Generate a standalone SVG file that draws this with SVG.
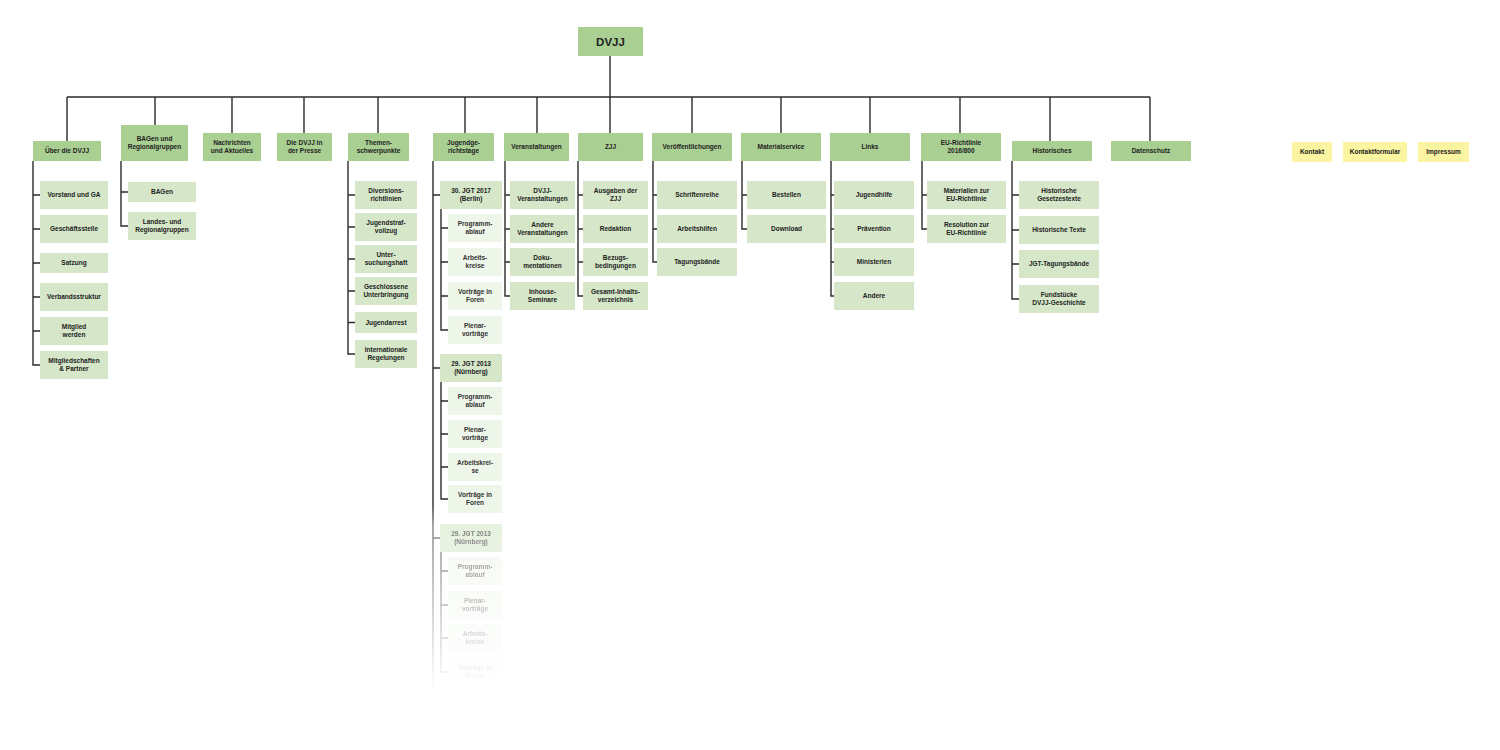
<svg xmlns="http://www.w3.org/2000/svg" width="1500" height="750" viewBox="0 0 1500 750">
<style>
text{font-family:"Liberation Sans",Arial,sans-serif;font-weight:bold;font-size:6.5px;fill:#222;text-anchor:middle}
.root text{font-size:11.5px}
.t{fill:#a9cf92}
.c{fill:#d5e7c8}
.g{fill:#eef5e9}
.y{fill:#fbf4a0}
.g + text,.gt{fill:#333}
#connectors path{stroke:#2b2b2b;stroke-width:1.4;fill:none}
</style>
<defs>
<linearGradient id="fadeGrad" gradientUnits="userSpaceOnUse" x1="0" y1="0" x2="0" y2="750">
<stop offset="0" stop-color="#fff"/>
<stop offset="0.673" stop-color="#fff"/>
<stop offset="0.70" stop-color="#999"/>
<stop offset="0.92" stop-color="#000"/>
</linearGradient>
<mask id="fade" maskUnits="userSpaceOnUse" x="0" y="0" width="1500" height="750">
<rect x="0" y="0" width="1500" height="750" fill="url(#fadeGrad)"/>
</mask>
</defs>
<rect width="1500" height="750" fill="#fff"/>

<g id="connectors" mask="url(#fade)">
<path d="M610 56V97M67 97H1150"/>
<path d="M67 97V141M155 97V125M232 97V133M304 97V133M378 97V133M465 97V133M537 97V133M610 97V133M692 97V133M781 97V133M870 97V133M960 97V133M1050 97V141M1150 97V141"/>
<!-- Über -->
<path d="M33 161V365H40M33 195H40M33 229H40M33 263H40M33 297H40M33 331H40"/>
<!-- BAGen -->
<path d="M121 161V226H128M121 192H128"/>
<!-- Themen -->
<path d="M348 161V354H355M348 195H355M348 227H355M348 259H355M348 291H355M348 322.5H355"/>
<!-- JGT -->
<path d="M433 161V695M433 195H440M433 368H440M433 538H440"/>
<path d="M441 209V330H448M441 228H448M441 262H448M441 296H448"/>
<path d="M441 382V499H448M441 401H448M441 434H448M441 467H448"/>
<path d="M441 552V672H448M441 571H448M441 605H448M441 638H448"/>
<!-- Veranstaltungen -->
<path d="M505 161V296H510M505 195H510M505 229H510M505 262H510"/>
<!-- ZJJ -->
<path d="M578 161V296H583M578 195H583M578 229H583M578 262H583"/>
<!-- Veröffentlichungen -->
<path d="M653 161V262H657M653 195H657M653 229H657"/>
<!-- Materialservice -->
<path d="M742 161V229H747M742 195H747"/>
<!-- Links -->
<path d="M831 161V296H834M831 195H834M831 229H834M831 262H834"/>
<!-- EU -->
<path d="M922 161V229H927M922 195H927"/>
<!-- Historisches -->
<path d="M1012 161V299H1019M1012 195H1019M1012 230H1019M1012 264H1019"/>
</g>

<g id="n-dvjj" class="root"><rect class="t" x="578" y="27" width="65" height="29"/><text x="610.5" y="45.5">DVJJ</text></g>

<!-- Top level -->
<g id="n-ueber"><rect class="t" x="33" y="141" width="68" height="20"/><text x="67" y="153.3">Über die DVJJ</text></g>
<g id="n-bagen-top"><rect class="t" x="121" y="125" width="67" height="36"/><text x="154.5" y="141.3">BAGen und</text><text x="154.5" y="149.3">Regionalgruppen</text></g>
<g id="n-nachrichten"><rect class="t" x="203" y="133" width="58" height="28"/><text x="232" y="145.3">Nachrichten</text><text x="232" y="153.3">und Aktuelles</text></g>
<g id="n-presse"><rect class="t" x="277" y="133" width="55" height="28"/><text x="304.5" y="145.3">Die DVJJ in</text><text x="304.5" y="153.3">der Presse</text></g>
<g id="n-themen"><rect class="t" x="348" y="133" width="61" height="28"/><text x="378.5" y="145.3">Themen-</text><text x="378.5" y="153.3">schwerpunkte</text></g>
<g id="n-jgt"><rect class="t" x="433" y="133" width="61" height="28"/><text x="463.5" y="145.3">Jugendge-</text><text x="463.5" y="153.3">richtstage</text></g>
<g id="n-veranst"><rect class="t" x="504" y="133" width="65" height="28"/><text x="536.5" y="149.3">Veranstaltungen</text></g>
<g id="n-zjj"><rect class="t" x="578" y="133" width="65" height="28"/><text x="610.5" y="149.3">ZJJ</text></g>
<g id="n-veroeff"><rect class="t" x="652" y="133" width="80" height="28"/><text x="692" y="149.3">Veröffentlichungen</text></g>
<g id="n-material"><rect class="t" x="741" y="133" width="80" height="28"/><text x="781" y="149.3">Materialservice</text></g>
<g id="n-links"><rect class="t" x="830" y="133" width="80" height="28"/><text x="870" y="149.3">Links</text></g>
<g id="n-eu"><rect class="t" x="921" y="133" width="80" height="28"/><text x="961" y="145.3">EU-Richtlinie</text><text x="961" y="153.3">2016/800</text></g>
<g id="n-hist"><rect class="t" x="1012" y="141" width="80" height="20"/><text x="1052" y="153.3">Historisches</text></g>
<g id="n-daten"><rect class="t" x="1111" y="141" width="80" height="20"/><text x="1151" y="153.3">Datenschutz</text></g>

<g id="n-kontakt"><rect class="y" x="1292" y="142" width="40" height="20"/><text x="1312" y="154.3">Kontakt</text></g>
<g id="n-kontaktformular"><rect class="y" x="1343" y="142" width="64" height="20"/><text x="1375" y="154.3">Kontaktformular</text></g>
<g id="n-impressum"><rect class="y" x="1418" y="142" width="51" height="20"/><text x="1443.5" y="154.3">Impressum</text></g>

<!-- Über children -->
<g id="n-vorstand"><rect class="c" x="40" y="181" width="68" height="28"/><text x="74" y="197.3">Vorstand und GA</text></g>
<g id="n-geschaeft"><rect class="c" x="40" y="215" width="68" height="28"/><text x="74" y="231.3">Geschäftsstelle</text></g>
<g id="n-satzung"><rect class="c" x="40" y="253" width="68" height="20"/><text x="74" y="265.3">Satzung</text></g>
<g id="n-verband"><rect class="c" x="40" y="283" width="68" height="28"/><text x="74" y="299.3">Verbandsstruktur</text></g>
<g id="n-mitglied"><rect class="c" x="40" y="317" width="68" height="28"/><text x="74" y="329.3">Mitglied</text><text x="74" y="337.3">werden</text></g>
<g id="n-mitgliedschaften"><rect class="c" x="40" y="351" width="68" height="28"/><text x="74" y="363.3">Mitgliedschaften</text><text x="74" y="371.3">&amp; Partner</text></g>

<!-- BAGen children -->
<g id="n-bagen"><rect class="c" x="128" y="182" width="68" height="20"/><text x="162" y="194.3">BAGen</text></g>
<g id="n-landes"><rect class="c" x="128" y="212" width="68" height="28"/><text x="162" y="224.3">Landes- und</text><text x="162" y="232.3">Regionalgruppen</text></g>

<!-- Themen children -->
<g id="n-diversion"><rect class="c" x="355" y="181" width="62" height="28"/><text x="386" y="193.3">Diversions-</text><text x="386" y="201.3">richtlinien</text></g>
<g id="n-jugendstraf"><rect class="c" x="355" y="213" width="62" height="28"/><text x="386" y="225.3">Jugendstraf-</text><text x="386" y="233.3">vollzug</text></g>
<g id="n-unter"><rect class="c" x="355" y="245" width="62" height="28"/><text x="386" y="257.3">Unter-</text><text x="386" y="265.3">suchungshaft</text></g>
<g id="n-geschlossen"><rect class="c" x="355" y="277" width="62" height="28"/><text x="386" y="289.3">Geschlossene</text><text x="386" y="297.3">Unterbringung</text></g>
<g id="n-arrest"><rect class="c" x="355" y="312" width="62" height="21"/><text x="386" y="324.8">Jugendarrest</text></g>
<g id="n-intern"><rect class="c" x="355" y="340" width="62" height="28"/><text x="386" y="352.3">Internationale</text><text x="386" y="360.3">Regelungen</text></g>

<!-- JGT children -->
<g id="n-jgt2017"><rect class="c" x="440" y="181" width="62" height="28"/><text x="471" y="193.3">30. JGT 2017</text><text x="471" y="201.3">(Berlin)</text></g>
<g id="n-jgt2017-prog"><rect class="g" x="448" y="214" width="54" height="28"/><text class="gt" x="475" y="226.3">Programm-</text><text class="gt" x="475" y="234.3">ablauf</text></g>
<g id="n-jgt2017-ak"><rect class="g" x="448" y="248" width="54" height="28"/><text class="gt" x="475" y="260.3">Arbeits-</text><text class="gt" x="475" y="268.3">kreise</text></g>
<g id="n-jgt2017-vf"><rect class="g" x="448" y="282" width="54" height="28"/><text class="gt" x="475" y="294.3">Vorträge in</text><text class="gt" x="475" y="302.3">Foren</text></g>
<g id="n-jgt2017-pv"><rect class="g" x="448" y="316" width="54" height="28"/><text class="gt" x="475" y="328.3">Plenar-</text><text class="gt" x="475" y="336.3">vorträge</text></g>

<g id="n-jgt2013"><rect class="c" x="440" y="354" width="62" height="28"/><text x="471" y="366.3">29. JGT 2013</text><text x="471" y="374.3">(Nürnberg)</text></g>
<g id="n-jgt2013-prog"><rect class="g" x="448" y="387" width="54" height="28"/><text class="gt" x="475" y="399.3">Programm-</text><text class="gt" x="475" y="407.3">ablauf</text></g>
<g id="n-jgt2013-pv"><rect class="g" x="448" y="420" width="54" height="28"/><text class="gt" x="475" y="432.3">Plenar-</text><text class="gt" x="475" y="440.3">vorträge</text></g>
<g id="n-jgt2013-ak"><rect class="g" x="448" y="453" width="54" height="28"/><text class="gt" x="475" y="465.3">Arbeitskrei-</text><text class="gt" x="475" y="473.3">se</text></g>
<g id="n-jgt2013-vf"><rect class="g" x="448" y="485" width="54" height="28"/><text class="gt" x="475" y="497.3">Vorträge in</text><text class="gt" x="475" y="505.3">Foren</text></g>

<g id="jgt-faded" mask="url(#fade)">
<g id="n-jgt2013b"><rect class="c" x="440" y="524" width="62" height="28"/><text x="471" y="536.3">29. JGT 2013</text><text x="471" y="544.3">(Nürnberg)</text></g>
<g id="n-jgt2013b-prog"><rect class="g" x="448" y="557" width="54" height="28"/><text class="gt" x="475" y="569.3">Programm-</text><text class="gt" x="475" y="577.3">ablauf</text></g>
<g id="n-jgt2013b-pv"><rect class="g" x="448" y="591" width="54" height="28"/><text class="gt" x="475" y="603.3">Plenar-</text><text class="gt" x="475" y="611.3">vorträge</text></g>
<g id="n-jgt2013b-ak"><rect class="g" x="448" y="624" width="54" height="28"/><text class="gt" x="475" y="636.3">Arbeits-</text><text class="gt" x="475" y="644.3">kreise</text></g>
<g id="n-jgt2013b-vf"><rect class="g" x="448" y="658" width="54" height="28"/><text class="gt" x="475" y="670.3">Vorträge in</text><text class="gt" x="475" y="678.3">Foren</text></g>
</g>

<!-- Veranstaltungen children -->
<g id="n-dvjjver"><rect class="c" x="510" y="181" width="65" height="28"/><text x="542.5" y="193.3">DVJJ-</text><text x="542.5" y="201.3">Veranstaltungen</text></g>
<g id="n-andere-ver"><rect class="c" x="510" y="215" width="65" height="28"/><text x="542.5" y="227.3">Andere</text><text x="542.5" y="235.3">Veranstaltungen</text></g>
<g id="n-doku"><rect class="c" x="510" y="248" width="65" height="28"/><text x="542.5" y="260.3">Doku-</text><text x="542.5" y="268.3">mentationen</text></g>
<g id="n-inhouse"><rect class="c" x="510" y="282" width="65" height="28"/><text x="542.5" y="294.3">Inhouse-</text><text x="542.5" y="302.3">Seminare</text></g>

<!-- ZJJ children -->
<g id="n-ausgaben"><rect class="c" x="583" y="181" width="65" height="28"/><text x="615.5" y="193.3">Ausgaben der</text><text x="615.5" y="201.3">ZJJ</text></g>
<g id="n-redaktion"><rect class="c" x="583" y="215" width="65" height="28"/><text x="615.5" y="231.3">Redaktion</text></g>
<g id="n-bezug"><rect class="c" x="583" y="248" width="65" height="28"/><text x="615.5" y="260.3">Bezugs-</text><text x="615.5" y="268.3">bedingungen</text></g>
<g id="n-gesamt"><rect class="c" x="583" y="282" width="65" height="28"/><text x="615.5" y="294.3">Gesamt-Inhalts-</text><text x="615.5" y="302.3">verzeichnis</text></g>

<!-- Veröffentlichungen children -->
<g id="n-schriften"><rect class="c" x="657" y="181" width="80" height="28"/><text x="697" y="197.3">Schriftenreihe</text></g>
<g id="n-arbeitshilfen"><rect class="c" x="657" y="215" width="80" height="28"/><text x="697" y="231.3">Arbeitshilfen</text></g>
<g id="n-tagungsbaende"><rect class="c" x="657" y="248" width="80" height="28"/><text x="697" y="264.3">Tagungsbände</text></g>

<!-- Materialservice children -->
<g id="n-bestellen"><rect class="c" x="747" y="181" width="79" height="28"/><text x="786.5" y="197.3">Bestellen</text></g>
<g id="n-download"><rect class="c" x="747" y="215" width="79" height="28"/><text x="786.5" y="231.3">Download</text></g>

<!-- Links children -->
<g id="n-jugendhilfe"><rect class="c" x="834" y="181" width="80" height="28"/><text x="874" y="197.3">Jugendhilfe</text></g>
<g id="n-praevention"><rect class="c" x="834" y="215" width="80" height="28"/><text x="874" y="231.3">Prävention</text></g>
<g id="n-ministerien"><rect class="c" x="834" y="248" width="80" height="28"/><text x="874" y="264.3">Ministerien</text></g>
<g id="n-andere-links"><rect class="c" x="834" y="282" width="80" height="28"/><text x="874" y="298.3">Andere</text></g>

<!-- EU children -->
<g id="n-materialien-eu"><rect class="c" x="927" y="181" width="79" height="28"/><text x="966.5" y="193.3">Materialien zur</text><text x="966.5" y="201.3">EU-Richtlinie</text></g>
<g id="n-resolution-eu"><rect class="c" x="927" y="215" width="79" height="28"/><text x="966.5" y="227.3">Resolution zur</text><text x="966.5" y="235.3">EU-Richtlinie</text></g>

<!-- Historisches children -->
<g id="n-hist-gesetz"><rect class="c" x="1019" y="181" width="80" height="28"/><text x="1059" y="193.3">Historische</text><text x="1059" y="201.3">Gesetzestexte</text></g>
<g id="n-hist-texte"><rect class="c" x="1019" y="216" width="80" height="28"/><text x="1059" y="232.3">Historische Texte</text></g>
<g id="n-jgt-tagung"><rect class="c" x="1019" y="250" width="80" height="28"/><text x="1059" y="266.3">JGT-Tagungsbände</text></g>
<g id="n-fundstuecke"><rect class="c" x="1019" y="285" width="80" height="28"/><text x="1059" y="297.3">Fundstücke</text><text x="1059" y="305.3">DVJJ-Geschichte</text></g>
</svg>
